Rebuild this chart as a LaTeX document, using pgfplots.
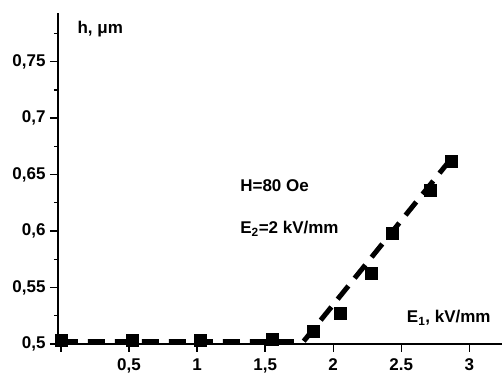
\documentclass[border=0pt]{standalone}
\usepackage{pgfplots}
\pgfplotsset{compat=1.18}
\usepackage{fontspec}
\setmainfont{Liberation Sans}
\begin{document}
\begin{tikzpicture}
\path[use as bounding box] (0,0) rectangle (502pt,379pt);
\begin{axis}[
  at={(58pt,35pt)}, anchor=south west,
  scale only axis, width=444pt, height=331pt,
  xmin=-0.022, xmax=3.24, ymin=0.5, ymax=0.793,
  axis lines=left, axis line style={line width=1.6pt, -},
  tick style={line width=1.4pt, black},
  tick align=outside, major tick length=8pt, minor tick length=4pt,
  xtick={0,0.5,1,1.5,2,2.5,3},
  xticklabels={,{0,5},1,{1,5},2,2.5,3},
  ytick={0.5,0.55,0.6,0.65,0.7,0.75},
  yticklabels={{0,5},{0,55},{0,6},{0,65},{0,7},{0,75}},
  minor ytick={0.525,0.575,0.625,0.675,0.725,0.775},
  ticklabel style={font=\fontsize{17}{19}\selectfont\bfseries},
  xticklabel style={yshift=-3pt},
  yticklabel style={xshift=-1pt},
  clip=false,
]
\addplot[black, line width=5pt, dash pattern=on 17pt off 10pt] coordinates {
  (0,0.502) (1.78,0.502) (2.88,0.666)
};
\addplot[only marks, mark=square*, mark size=6pt, black] coordinates {
  (0,0.5035) (0.52,0.5035) (1.02,0.5035) (1.55,0.504) (1.85,0.5115)
  (2.05,0.527) (2.28,0.563) (2.43,0.598) (2.71,0.636) (2.87,0.662)
};
\node[anchor=west, inner sep=0pt, font=\fontsize{17}{19}\selectfont\bfseries] at (axis cs:0.12,0.779) {h, μm};
\node[anchor=west, inner sep=0pt, font=\fontsize{17}{19}\selectfont\bfseries] at (axis cs:1.316,0.640) {H=80 Oe};
\node[anchor=west, inner sep=0pt, font=\fontsize{17}{19}\selectfont\bfseries] at (axis cs:1.316,0.602) {E\textsubscript{2}=2 kV/mm};
\node[anchor=west, inner sep=0pt, font=\fontsize{17}{19}\selectfont\bfseries] at (axis cs:2.54,0.523) {E\textsubscript{1}, kV/mm};
\end{axis}
\end{tikzpicture}
\end{document}
